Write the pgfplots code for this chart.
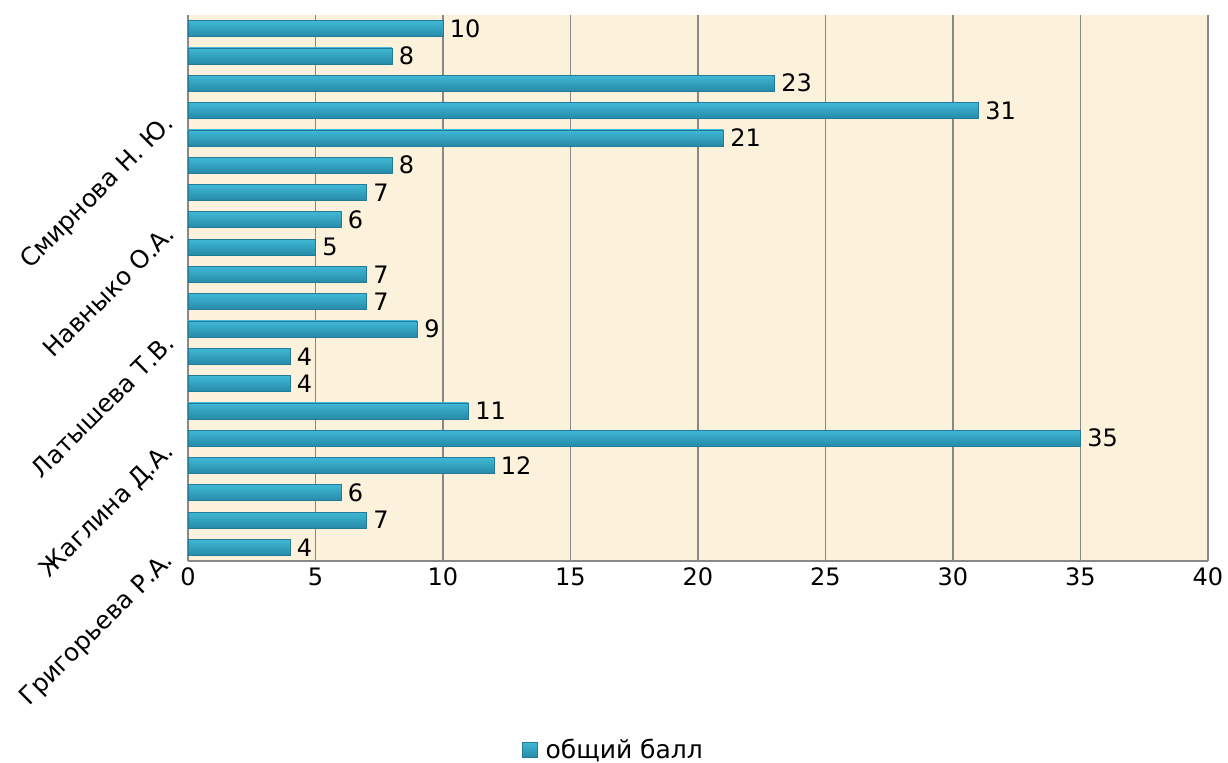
\documentclass[border=0pt]{standalone}
\usepackage{fontspec}
\setmainfont{DejaVu Sans}
\usepackage{pgfplots}
\pgfplotsset{compat=1.18}
\definecolor{bg}{RGB}{252,242,219}
\definecolor{bartop}{RGB}{64,184,214}
\definecolor{barmid}{RGB}{50,166,200}
\definecolor{barbot}{RGB}{38,138,168}
\definecolor{gridc}{RGB}{136,136,136}
\newcommand\fsz{\fontsize{12}{14}\selectfont}
\pgfplotsset{mybar/.style={draw=barbot!90!black, line width=0.3pt, top color=bartop, middle color=barmid, bottom color=barbot}}
\begin{document}
\begin{tikzpicture}
\path[use as bounding box] (0,0) rectangle (614pt,381pt);
\begin{axis}[
  at={(94pt,100.5pt)}, anchor=south west,
  scale only axis, width=510pt, height=273pt,
  xbar, bar width=8pt, bar shift=0pt,
  xmin=0, xmax=40, ymin=-0.5, ymax=19.5,
  xtick={0,5,...,40},
  ytick={0,4,8,12,16},
  yticklabels={Григорьева Р.А., Жаглина Д.А., Латышева Т.В., Навныко О.А., Смирнова Н. Ю.},
  yticklabel style={rotate=45, anchor=east, font=\fontsize{12.3}{14}\selectfont, xshift=-6.4pt, yshift=2.8pt},
  xticklabel style={font=\fsz},
  major tick length=0pt,
  xmajorgrids, grid style={gridc, line width=0.9pt},
  axis lines*=left, axis line style={gridc, line width=1.3pt, -},
  axis background/.style={fill=bg},
  nodes near coords, nodes near coords style={font=\fsz, black},
  /pgf/number format/assume math mode=true,
  legend style={at={(rel axis cs:0.418,-0.346)}, anchor=center, draw=none, fill=none, font=\fontsize{12.5}{14}\selectfont},
  legend image code/.code={\fill[#1] (0pt,-3.75pt) rectangle (7.5pt,3.75pt);},
]
\addplot[mybar] coordinates {(4,0)};
\addplot[mybar, forget plot] coordinates {(7,1)};
\addplot[mybar, forget plot] coordinates {(6,2)};
\addplot[mybar, forget plot] coordinates {(12,3)};
\addplot[mybar, forget plot] coordinates {(35,4)};
\addplot[mybar, forget plot] coordinates {(11,5)};
\addplot[mybar, forget plot] coordinates {(4,6)};
\addplot[mybar, forget plot] coordinates {(4,7)};
\addplot[mybar, forget plot] coordinates {(9,8)};
\addplot[mybar, forget plot] coordinates {(7,9)};
\addplot[mybar, forget plot] coordinates {(7,10)};
\addplot[mybar, forget plot] coordinates {(5,11)};
\addplot[mybar, forget plot] coordinates {(6,12)};
\addplot[mybar, forget plot] coordinates {(7,13)};
\addplot[mybar, forget plot] coordinates {(8,14)};
\addplot[mybar, forget plot] coordinates {(21,15)};
\addplot[mybar, forget plot] coordinates {(31,16)};
\addplot[mybar, forget plot] coordinates {(23,17)};
\addplot[mybar, forget plot] coordinates {(8,18)};
\addplot[mybar, forget plot] coordinates {(10,19)};
\legend{\,общий балл}
\end{axis}
\end{tikzpicture}
\end{document}
